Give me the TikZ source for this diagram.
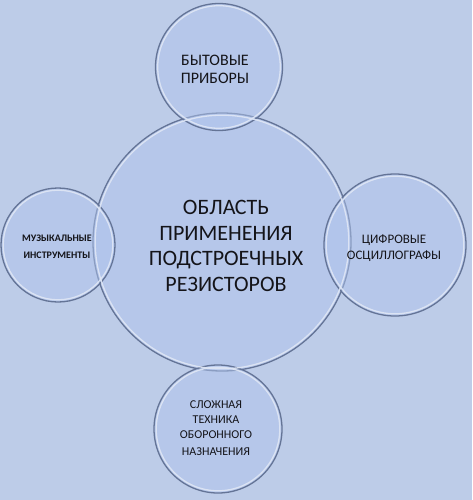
\documentclass[tikz,border=0pt]{standalone}
\usepackage{fontspec}
\setmainfont{Carlito}
\definecolor{bg}{RGB}{189,204,232}
\definecolor{cfill}{RGB}{176,196,236}
\definecolor{rimdark}{RGB}{100,116,150}
\definecolor{rimlight}{RGB}{224,231,245}
\definecolor{txt}{RGB}{20,20,25}
\begin{document}
\begin{tikzpicture}[x=1pt,y=-1pt,
  bubble/.style={circle,minimum size=#1,inner sep=0pt,
    fill=cfill,fill opacity=0.5,draw=rimdark,line width=1.3pt},
  rimin/.style={rimlight,line width=1.3pt,opacity=0.9},
  lbl/.style={text=txt,align=center}]
\fill[bg] (0,0) rectangle (472,500);
\useasboundingbox (0,0) rectangle (472,500);
\node[bubble=258pt] (core) at (222,242) {};
\node[bubble=127pt] (top) at (219,67) {};
\node[bubble=114pt] (left) at (58,245) {};
\node[bubble=142pt] (right) at (395,245) {};
\node[bubble=128pt] (bottom) at (218,429) {};
\foreach \n/\r in {core/126.8,top/61.3,left/54.8,right/68.8,bottom/61.8}
  \draw[rimin] (\n.center) circle (\r);
\node[lbl,font=\fontsize{22}{25.5}\selectfont] (coretxt) at (226,246)
  {ОБЛАСТЬ\\ПРИМЕНЕНИЯ\\ПОДСТРОЕЧНЫХ\\РЕЗИСТОРОВ};
\node[lbl,font=\fontsize{16}{18}\selectfont] (toptxt) at (215,69)
  {БЫТОВЫЕ\\ПРИБОРЫ};
\node[lbl,font=\bfseries\fontsize{10}{17}\selectfont] (lefttxt) at (57,247)
  {МУЗЫКАЛЬНЫЕ\\ИНСТРУМЕНТЫ};
\node[lbl,font=\fontsize{13}{16}\selectfont] (righttxt) at (394,248)
  {ЦИФРОВЫЕ\\ОСЦИЛЛОГРАФЫ};
\node[lbl,font=\fontsize{12}{15}\selectfont] (bottomtxt) at (216,428)
  {СЛОЖНАЯ\\ТЕХНИКА\\ОБОРОННОГО\\[2pt]НАЗНАЧЕНИЯ};
\end{tikzpicture}
\end{document}
